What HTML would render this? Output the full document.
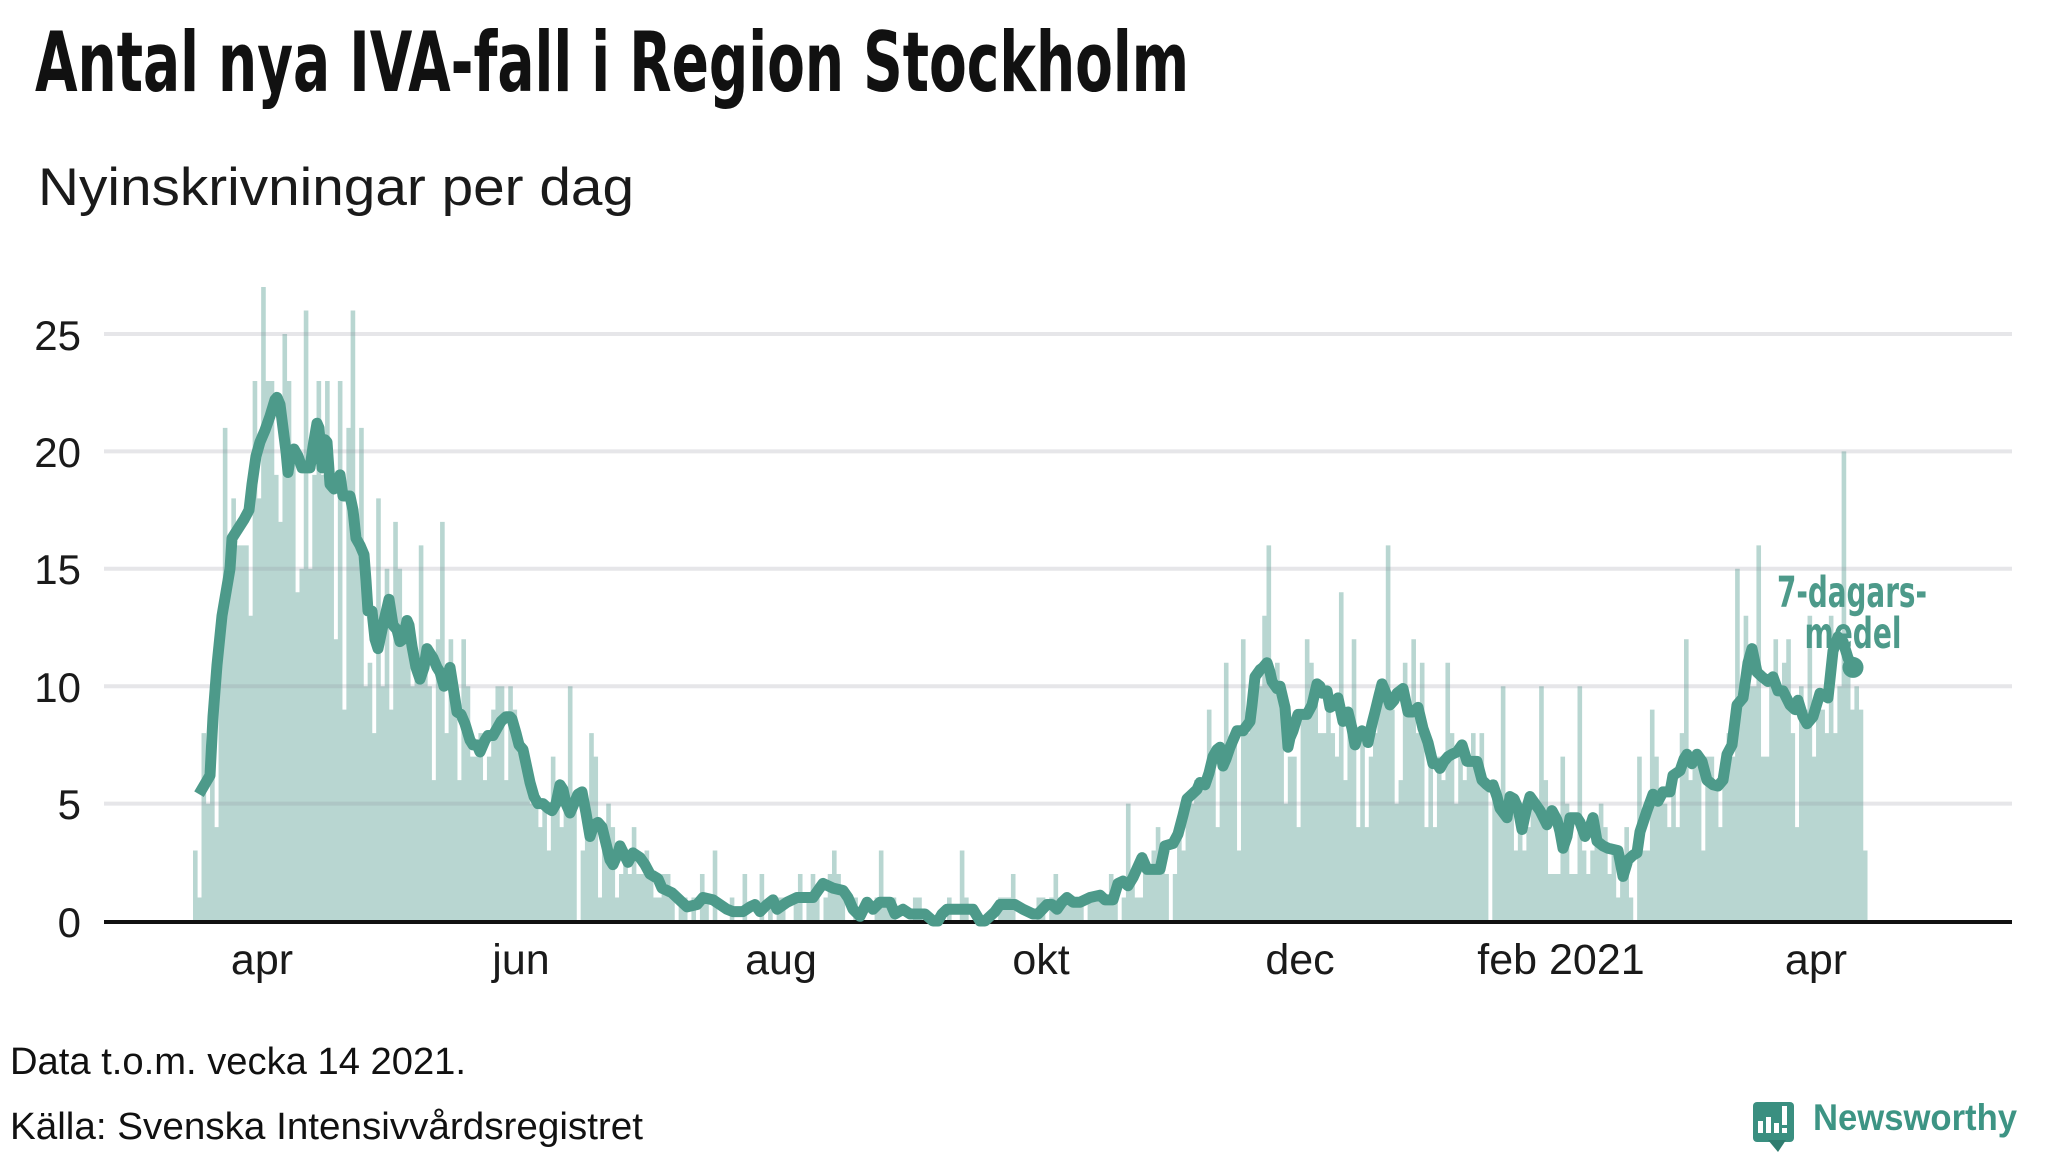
<!DOCTYPE html>
<html>
<head>
<meta charset="utf-8">
<style>
  html,body{margin:0;padding:0;background:#ffffff;}
  svg{display:block;}
  .t{font-family:"Liberation Sans Narrow","DejaVu Sans Condensed","Liberation Sans",sans-serif;font-weight:bold;}
  .r{font-family:"Liberation Sans","DejaVu Sans",sans-serif;}
</style>
</head>
<body>
<svg id="chart" xmlns="http://www.w3.org/2000/svg" width="2048" height="1152" viewBox="0 0 2048 1152">
  <rect x="0" y="0" width="2048" height="1152" fill="#ffffff"/>

  <!-- Title & subtitle -->
  <text class="t" x="35" y="91" font-size="83" fill="#111111" textLength="1154" lengthAdjust="spacingAndGlyphs">Antal nya IVA-fall i Region Stockholm</text>
  <text class="r" x="38" y="205" font-size="53" fill="#1a1a1a" textLength="596" lengthAdjust="spacingAndGlyphs">Nyinskrivningar per dag</text>

  <!-- Bars -->
  <path id="bars" d="" fill="#b8d6d1"/>

  <!-- Gridlines -->
  <g stroke="#8c8c9a" stroke-opacity="0.22" stroke-width="4">
    <line x1="104" y1="803.6" x2="2012" y2="803.6"/>
    <line x1="104" y1="686.2" x2="2012" y2="686.2"/>
    <line x1="104" y1="568.8" x2="2012" y2="568.8"/>
    <line x1="104" y1="451.4" x2="2012" y2="451.4"/>
    <line x1="104" y1="334" x2="2012" y2="334"/>
  </g>

  <!-- Baseline -->
  <line x1="104" y1="922" x2="2012" y2="922" stroke="#111111" stroke-width="4"/>

  <!-- Y labels -->
  <g class="r" font-size="42" fill="#1a1a1a" text-anchor="end">
    <text x="81" y="937">0</text>
    <text x="81" y="819">5</text>
    <text x="81" y="702">10</text>
    <text x="81" y="584">15</text>
    <text x="81" y="467">20</text>
    <text x="81" y="350">25</text>
  </g>

  <!-- X labels -->
  <g class="r" font-size="43" fill="#1a1a1a" text-anchor="middle">
    <text x="262" y="974">apr</text>
    <text x="521" y="974">jun</text>
    <text x="781" y="974">aug</text>
    <text x="1041" y="974">okt</text>
    <text x="1300" y="974">dec</text>
    <text x="1561" y="974">feb 2021</text>
    <text x="1816" y="974">apr</text>
  </g>

  <!-- Annotation -->
  <g class="t" font-size="43" fill="#4d9a8a" text-anchor="middle">
    <text x="1852" y="607" textLength="150" lengthAdjust="spacingAndGlyphs">7-dagars-</text>
    <text x="1853" y="648" textLength="97" lengthAdjust="spacingAndGlyphs">medel</text>
  </g>

  <!-- 7-day line -->
  <polyline id="line" points="" fill="none" stroke="#4d9a8a" stroke-width="11" stroke-linejoin="round" stroke-linecap="butt"/>
  <circle id="dot" cx="1853" cy="667" r="10.5" fill="#4d9a8a"/>

  <!-- Footer -->
  <text class="r" x="10" y="1074" font-size="38" fill="#111111" textLength="456" lengthAdjust="spacingAndGlyphs">Data t.o.m. vecka 14 2021.</text>
  <text class="r" x="10" y="1139" font-size="38" fill="#111111" textLength="633" lengthAdjust="spacingAndGlyphs">Källa: Svenska Intensivvårdsregistret</text>

  <!-- Logo -->
  <g>
    <rect x="1753" y="1102" width="41" height="40" rx="4" fill="#3a8f80"/>
    <polygon points="1768,1140 1786,1140 1778,1152" fill="#2f7c6f"/>
    <rect x="1758" y="1121" width="5" height="12" fill="#ffffff"/>
    <rect x="1766" y="1117" width="5" height="16" fill="#ffffff"/>
    <rect x="1774" y="1123" width="5" height="10" fill="#ffffff"/>
    <rect x="1782" y="1106" width="5" height="19" fill="#ffffff"/>
    <rect x="1782" y="1128" width="5" height="5" fill="#ffffff"/>
  </g>
  <text class="r" x="1813" y="1130" font-size="37" font-weight="bold" fill="#3d9484" textLength="204" lengthAdjust="spacingAndGlyphs">Newsworthy</text>
</svg>

<script>
(function(){
  var L=[[199,5.4],[210,6.2],[213,8.7],[217,10.9],[222,13.0],[226,14.0],[230,15.0],[232,16.3],[238,16.7],[244,17.1],[249,17.5],[252,18.6],[256,19.8],[260,20.4],[265,20.9],[270,21.5],[275,22.2],[277,22.3],[280,22.0],[283,21.0],[286,20.0],[288,19.1],[291,20.0],[294,20.1],[298,19.8],[302,19.3],[310,19.3],[313,20.2],[317,21.2],[319,21.0],[322,19.3],[325,20.5],[327,20.4],[330,18.6],[334,18.4],[337,18.5],[340,19.0],[343,18.1],[350,18.1],[353,17.5],[356,16.3],[360,16.0],[364,15.6],[366,14.5],[368,13.2],[372,13.2],[375,12.0],[378,11.6],[383,12.6],[389,13.7],[393,12.6],[397,12.4],[400,11.9],[403,12.0],[407,12.8],[409,12.6],[412,11.7],[416,10.8],[420,10.3],[424,10.8],[427,11.6],[430,11.4],[433,11.2],[437,10.8],[440,10.6],[444,10.0],[447,10.3],[450,10.8],[453,10.0],[457,8.9],[461,8.8],[465,8.4],[470,7.7],[473,7.5],[477,7.5],[480,7.2],[485,7.7],[488,7.9],[493,7.9],[497,8.2],[501,8.5],[506,8.7],[510,8.7],[512,8.6],[516,8.0],[519,7.5],[523,7.3],[527,6.5],[530,5.9],[534,5.3],[538,5.0],[543,5.0],[548,4.8],[552,4.7],[556,5.0],[560,5.8],[563,5.6],[566,5.0],[570,4.6],[574,5.0],[578,5.4],[582,5.5],[586,4.6],[590,3.6],[594,4.1],[598,4.2],[602,4.0],[606,3.3],[610,2.6],[613,2.4],[618,2.9],[620,3.2],[628,2.5],[633,2.9],[640,2.7],[645,2.4],[650,2.0],[658,1.8],[662,1.4],[672,1.2],[682,0.8],[687,0.6],[697,0.7],[703,1.0],[713,0.9],[720,0.7],[727,0.5],[733,0.4],[743,0.4],[750,0.6],[755,0.7],[760,0.4],[767,0.7],[773,0.9],[777,0.5],[787,0.8],[797,1.0],[813,1.0],[818,1.3],[823,1.6],[833,1.4],[843,1.3],[848,1.0],[853,0.5],[860,0.2],[867,0.8],[873,0.5],[880,0.8],[890,0.8],[895,0.3],[903,0.5],[910,0.3],[925,0.3],[933,0.0],[938,0.0],[942,0.3],[947,0.5],[973,0.5],[980,0.0],[985,0.0],[995,0.4],[1000,0.7],[1015,0.7],[1023,0.5],[1033,0.3],[1038,0.3],[1047,0.7],[1052,0.7],[1057,0.5],[1062,0.8],[1067,1.0],[1073,0.8],[1080,0.8],[1090,1.0],[1100,1.1],[1105,0.9],[1113,0.9],[1118,1.6],[1123,1.7],[1128,1.5],[1133,1.85],[1142,2.7],[1147,2.2],[1160,2.2],[1165,3.2],[1173,3.3],[1178,3.7],[1183,4.5],[1187,5.2],[1192,5.4],[1197,5.6],[1200,5.9],[1205,5.8],[1209,6.3],[1213,7.0],[1217,7.3],[1220,7.4],[1223,6.6],[1226,6.9],[1230,7.4],[1237,8.1],[1243,8.1],[1250,8.5],[1252,9.2],[1255,10.4],[1260,10.7],[1263,10.8],[1267,11.0],[1270,10.6],[1272,10.2],[1277,9.9],[1280,10.0],[1285,9.1],[1288,7.4],[1290,7.8],[1293,8.1],[1298,8.8],[1307,8.8],[1312,9.2],[1317,10.1],[1320,10.0],[1322,9.7],[1327,9.8],[1330,9.1],[1334,9.2],[1338,9.5],[1343,8.5],[1348,8.9],[1352,8.2],[1355,7.5],[1358,7.9],[1362,8.1],[1366,8.0],[1368,7.6],[1372,8.4],[1375,8.9],[1379,9.6],[1382,10.1],[1386,9.7],[1390,9.2],[1394,9.4],[1397,9.7],[1403,9.9],[1408,8.9],[1413,8.9],[1418,9.1],[1423,8.2],[1428,7.6],[1433,6.7],[1437,6.7],[1440,6.5],[1444,6.8],[1448,7.0],[1452,7.1],[1457,7.2],[1462,7.5],[1467,6.8],[1477,6.8],[1482,6.0],[1487,5.8],[1490,5.7],[1493,5.8],[1497,5.3],[1500,4.8],[1507,4.4],[1510,5.3],[1514,5.2],[1518,4.8],[1522,3.9],[1526,4.7],[1530,5.3],[1535,5.0],[1540,4.7],[1547,4.1],[1552,4.7],[1557,4.3],[1560,3.8],[1563,3.1],[1567,3.6],[1570,4.4],[1577,4.4],[1580,4.2],[1585,3.6],[1590,4.0],[1593,4.4],[1597,3.4],[1603,3.2],[1608,3.1],[1618,3.0],[1623,1.9],[1628,2.6],[1633,2.8],[1637,2.9],[1640,3.8],[1647,4.7],[1653,5.4],[1658,5.1],[1663,5.5],[1670,5.5],[1673,6.2],[1680,6.4],[1684,6.9],[1687,7.1],[1692,6.7],[1697,7.1],[1702,6.8],[1707,6.0],[1713,5.8],[1718,5.75],[1723,6.0],[1727,7.1],[1732,7.5],[1737,9.2],[1743,9.5],[1748,11.0],[1752,11.6],[1757,10.6],[1762,10.4],[1768,10.2],[1773,10.4],[1778,9.8],[1783,9.8],[1790,9.2],[1795,9.0],[1798,9.4],[1803,8.7],[1807,8.4],[1813,8.7],[1820,9.7],[1828,9.5],[1833,11.5],[1838,12.1],[1843,11.9],[1848,11.2],[1853,10.8]];

  var R=[[195,3],[199,1],[203,8],[210,5],[216,4],[220,12],[224,21],[229,15],[233,18],[237,16],[241,16],[245,16],[249,13],[254,23],[258,18],[263,27],[267,23],[272,23],[275,19],[279,17],[284,25],[288,23],[292,20],[297,14],[301,15],[305,26],[309,15],[314,19],[318,23],[322,19],[327,23],[331,19],[335,12],[339,23],[343,9],[347,21],[352,26],[356,17],[360,21],[365,10],[369,11],[373,8],[377,18],[381,10],[385,15],[390,9],[394,17],[398,15],[403,12],[407,12],[412,10],[416,11],[420,16],[424,11],[429,10],[433,6],[437,12],[441,17],[445,8],[450,12],[454,10],[459,6],[462,12],[467,10],[471,7],[475,7],[479,8],[484,6],[488,7],[492,9],[497,10],[501,10],[505,6],[509,10],[514,9],[518,8],[522,7],[527,6],[531,5],[535,5],[542,4],[547,3],[554,7],[562,4],[567,5],[572,10],[577,0],[584,3],[590,8],[594,7],[601,1],[607,5],[612,4],[616,1],[620,2],[624,3],[629,2],[633,4],[637,2],[641,2],[645,3],[650,2],[654,1],[658,1],[662,2],[666,2],[670,2],[675,0],[679,1],[684,1],[688,0],[692,1],[697,0],[701,2],[705,1],[709,0],[713,3],[718,0],[722,0],[726,0],[730,1],[734,0],[739,0],[743,2],[747,0],[752,0],[756,0],[760,2],[764,0],[769,1],[773,0],[778,1],[784,1],[788,0],[792,0],[798,2],[803,0],[807,1],[811,2],[815,1],[820,0],[824,1],[829,2],[833,3],[837,2],[841,1],[846,0],[850,0],[855,1],[859,0],[863,0],[868,0],[873,0],[879,3],[883,1],[888,1],[893,1],[898,0],[903,0],[908,0],[913,1],[918,1],[922,0],[926,0],[930,0],[935,0],[939,0],[943,0],[947,0],[952,0],[956,0],[960,3],[964,0],[969,0],[973,0],[977,0],[981,0],[986,0],[990,0],[994,0],[998,0],[1002,1],[1007,1],[1011,2],[1017,0],[1020,0],[1024,0],[1029,0],[1033,0],[1037,1],[1041,1],[1047,0],[1052,1],[1057,2],[1062,1],[1067,1],[1071,1],[1075,1],[1079,2],[1084,0],[1089,1],[1093,1],[1098,1],[1102,1],[1109,2],[1113,1],[1118,0],[1124,1],[1130,5],[1135,1],[1139,1],[1143,2],[1148,2],[1152,3],[1156,4],[1160,2],[1165,2],[1169,0],[1174,2],[1177,9],[1182,3],[1186,5],[1190,5],[1195,6],[1199,6],[1203,6],[1207,9],[1211,6],[1216,4],[1220,7],[1224,11],[1228,9],[1232,7],[1237,3],[1241,12],[1245,6],[1249,8],[1254,10],[1258,10],[1262,11],[1266,13],[1270,16],[1275,10],[1279,11],[1284,5],[1288,7],[1292,9],[1296,7],[1300,4],[1305,12],[1309,11],[1313,11],[1318,8],[1322,8],[1326,11],[1331,8],[1335,7],[1339,14],[1344,6],[1348,8],[1352,12],[1356,4],[1360,11],[1365,4],[1369,7],[1373,9],[1377,8],[1381,10],[1385,10],[1390,16],[1394,9],[1398,5],[1402,6],[1406,11],[1411,9],[1415,12],[1419,8],[1423,11],[1427,4],[1432,7],[1436,4],[1440,7],[1445,6],[1449,11],[1453,8],[1457,5],[1462,7],[1466,6],[1470,7],[1475,8],[1479,7],[1483,8],[1487,6],[1491,0],[1495,6],[1500,5],[1505,10],[1509,5],[1514,3],[1518,5],[1522,4],[1526,3],[1530,4],[1535,5],[1539,6],[1543,10],[1547,6],[1551,2],[1555,2],[1560,2],[1564,7],[1568,5],[1572,2],[1576,2],[1580,10],[1585,3],[1589,2],[1593,3],[1597,4],[1601,5],[1606,4],[1610,2],[1614,3],[1618,1],[1622,2],[1627,4],[1631,1],[1636,0],[1641,7],[1645,3],[1649,3],[1653,9],[1658,7],[1662,5],[1666,5],[1670,4],[1674,6],[1679,4],[1683,8],[1687,12],[1691,6],[1695,7],[1700,7],[1705,3],[1709,7],[1713,7],[1718,6],[1722,4],[1727,8],[1731,7],[1735,4],[1739,15],[1743,10],[1747,13],[1752,10],[1756,10],[1760,16],[1764,7],[1768,7],[1773,10],[1777,12],[1781,10],[1786,11],[1790,12],[1794,8],[1799,4],[1803,10],[1807,9],[1811,13],[1815,7],[1819,9],[1824,9],[1828,8],[1832,13],[1836,8],[1841,10],[1845,20],[1849,11],[1853,9],[1858,10],[1862,9],[1866,3]];

  function lv(x){
    if(x<=L[0][0]) return L[0][1];
    for(var k=1;k<L.length;k++){
      if(x<=L[k][0]){
        var x0=L[k-1][0],v0=L[k-1][1],x1=L[k][0],v1=L[k][1];
        return v0+(v1-v0)*(x-x0)/(x1-x0);
      }
    }
    return L[L.length-1][1];
  }
  function Y(v){return 921-v*23.48;}

  var N=393,W=4.26,X0=193;
  var vals=[];
  for(var i=0;i<N;i++) vals.push(null);
  for(var j=0;j<R.length;j++){
    var idx=Math.floor((R[j][0]-X0)/W);
    if(idx>=0&&idx<N&&vals[idx]===null) vals[idx]=R[j][1];
  }
  for(var i2=0;i2<N;i2++){
    if(vals[i2]===null) vals[i2]=Math.max(0,Math.round(lv(X0+W*i2+W/2)));
  }
  var d="";
  for(var b=0;b<N;b++){
    var v=vals[b];
    if(v<=0) continue;
    var x=X0+W*b;
    d+="M"+x.toFixed(2)+",921V"+Y(v).toFixed(2)+"H"+(x+W+0.35).toFixed(2)+"V921Z";
  }
  document.getElementById("bars").setAttribute("d",d);

  var pts=[];
  for(var p=0;p<L.length;p++) pts.push(L[p][0]+","+Y(L[p][1]).toFixed(2));
  document.getElementById("line").setAttribute("points",pts.join(" "));
  var last=L[L.length-1];
  var dot=document.getElementById("dot");
  dot.setAttribute("cx",last[0]);
  dot.setAttribute("cy",Y(last[1]).toFixed(2));
})();
</script>
</body>
</html>
